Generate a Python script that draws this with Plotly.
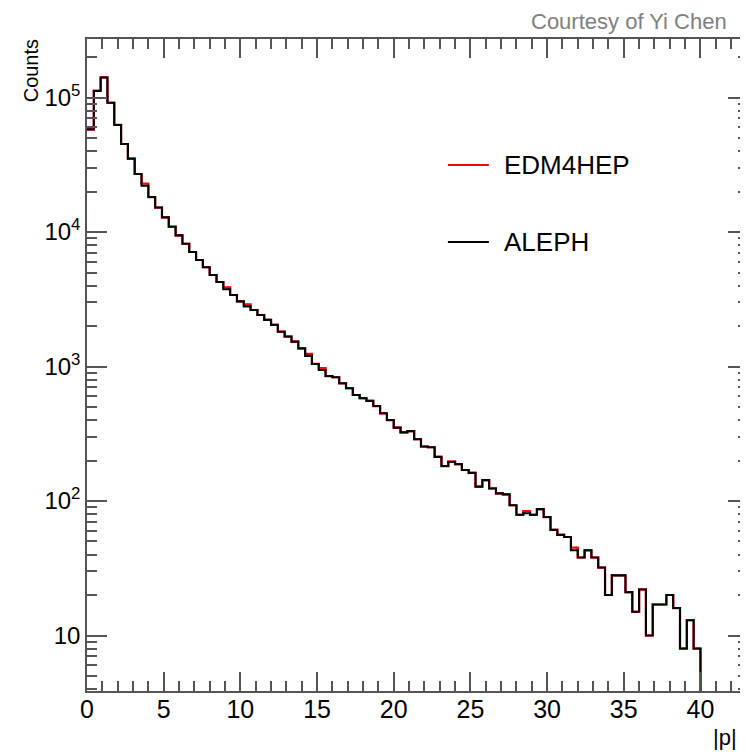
import plotly.graph_objects as go

# ---------------- data ----------------
BIN_WIDTH = 40.0 / 90.0
# ALEPH counts per bin (bins of width 40/90 starting at 0); trailing empty bins are 0
aleph_counts = [
    58000, 112000, 141000, 91400, 62500, 45100, 35100, 27000, 22100, 18200,
    15200, 12850, 10950, 9440, 8180, 7100, 6190, 5470, 4790, 4250,
    3750, 3400, 3050, 2800, 2630, 2415, 2220, 2040, 1815, 1670,
    1530, 1365, 1200, 1045, 942, 849, 832, 750, 689, 614,
    581, 555, 508, 449, 400, 351, 324, 331, 288, 254,
    251, 213, 182, 196, 188, 170, 162, 128, 143, 124,
    114, 112, 93, 79, 81, 79, 87, 76, 61, 56,
    54, 43, 38, 43, 38, 32, 20, 28, 28, 21,
    15, 22, 10, 17, 17, 20, 16, 8, 13, 8,
    0, 0, 0, 0, 0, 0, 0, 0,
]
edm4hep_counts = [
    58000, 112000, 141000, 91400, 62500, 45100, 35100, 27000, 22900, 18200,
    15200, 12850, 10950, 9440, 8180, 7100, 6190, 5470, 4790, 4250,
    3880, 3400, 3050, 2900, 2630, 2415, 2220, 2040, 1815, 1670,
    1530, 1365, 1240, 1045, 972, 849, 832, 750, 689, 614,
    581, 555, 508, 449, 400, 351, 324, 331, 288, 254,
    251, 213, 182, 196, 188, 170, 162, 128, 143, 124,
    114, 112, 93, 79, 84, 79, 87, 76, 61, 56,
    54, 45, 38, 43, 38, 32, 20, 28, 28, 21,
    15, 22, 10, 17, 17, 20, 16, 8, 13, 8,
    0, 0, 0, 0, 0, 0, 0, 0,
]
series_names = ["EDM4HEP", "ALEPH"]
series_colors = ["#ff0000", "#000000"]
x_tick_vals = [0, 5, 10, 15, 20, 25, 30, 35, 40]
y_tick_vals = [10, 100, 1000, 10000, 100000]
y_tick_text = ["10", "10<sup>2</sup>", "10<sup>3</sup>", "10<sup>4</sup>", "10<sup>5</sup>"]

FONT = "Liberation Sans, Arial, Helvetica, sans-serif"
FLOOR = 0.1  # empty bins drawn below the frame (clipped), like ROOT on log scale


def step_xy(counts):
    xs = [i * BIN_WIDTH for i in range(len(counts) + 1)]
    ys = [c if c > 0 else FLOOR for c in counts]
    ys = ys + [ys[-1]]
    return xs, ys


fig = go.Figure()
for name, counts, color, width in [
    (series_names[0], edm4hep_counts, series_colors[0], 2.2),
    (series_names[1], aleph_counts, series_colors[1], 2.1),
]:
    xs, ys = step_xy(counts)
    fig.add_trace(go.Scatter(
        x=xs, y=ys, mode="lines", name=name,
        line=dict(color=color, width=width, shape="hv"),
        showlegend=False, hoverinfo="skip",
    ))

# y minor ticks: 2..9 x 10^n
minor_vals = [m * 10 ** n for n in range(0, 6) for m in range(2, 10)]

# the page body adds an 8px offset; margins compensate so the frame sits at 87..748 x 39..691
fig.update_layout(
    width=748, height=752,
    margin=dict(l=79, r=8, t=31, b=69, autoexpand=False),
    paper_bgcolor="white", plot_bgcolor="white",
    font=dict(family=FONT, color="black"),
    xaxis=dict(
        range=[0, 43.10], showgrid=False, zeroline=False, automargin=False,
        showline=True, linecolor="#555555", linewidth=1.5, mirror="allticks",
        ticks="inside", ticklen=19, tickwidth=1.5, tickcolor="#555555",
        tickmode="array", tickvals=x_tick_vals, ticklabelstandoff=-5,
        tickfont=dict(size=25, family=FONT, color="black"),
        minor=dict(ticks="inside", ticklen=10, tickwidth=1.5, tickcolor="#555555", dtick=1, showgrid=False),
    ),
    yaxis=dict(
        type="log", range=[0.5874, 5.435], showgrid=False, zeroline=False, automargin=False,
        showline=True, linecolor="#555555", linewidth=1.5, mirror="allticks",
        ticks="inside", ticklen=20, tickwidth=1.5, tickcolor="#555555",
        tickmode="array", tickvals=y_tick_vals, ticktext=y_tick_text,
        tickfont=dict(size=24, family=FONT, color="black"),
        minor=dict(ticks="inside", ticklen=10, tickwidth=1.5, tickcolor="#555555",
                   tickmode="array", tickvals=minor_vals, showgrid=False),
    ),
)

# legend drawn ROOT-style
legend_rows = [(0.8067, series_names[0], series_colors[0]), (0.6887, series_names[1], series_colors[1])]
for yy, txt, col in legend_rows:
    fig.add_shape(type="line", xref="paper", yref="paper", x0=0.546, x1=0.608, y0=yy, y1=yy,
                  line=dict(color=col, width=2))
    fig.add_annotation(xref="paper", yref="paper", x=0.628, y=yy, text=txt, showarrow=False,
                       xanchor="left", yanchor="middle", font=dict(size=26, family=FONT, color="black"))

# axis titles
fig.add_annotation(xref="paper", yref="paper", x=-0.085, y=1.0, yshift=2, text="Counts", textangle=-90,
                   showarrow=False, xanchor="center", yanchor="top",
                   font=dict(size=20, family=FONT, color="black"))
fig.add_annotation(xref="paper", yref="paper", x=1.0, xshift=-9, y=-0.071, text="|p|",
                   showarrow=False, xanchor="right", yanchor="middle",
                   font=dict(size=22, family=FONT, color="black"))
fig.add_annotation(xref="paper", yref="paper", x=0.972, y=1.0, yshift=18, text="Courtesy of Yi Chen",
                   showarrow=False, xanchor="right", yanchor="middle",
                   font=dict(size=22, family=FONT, color="#808080"))

fig.write_html("out.html")
